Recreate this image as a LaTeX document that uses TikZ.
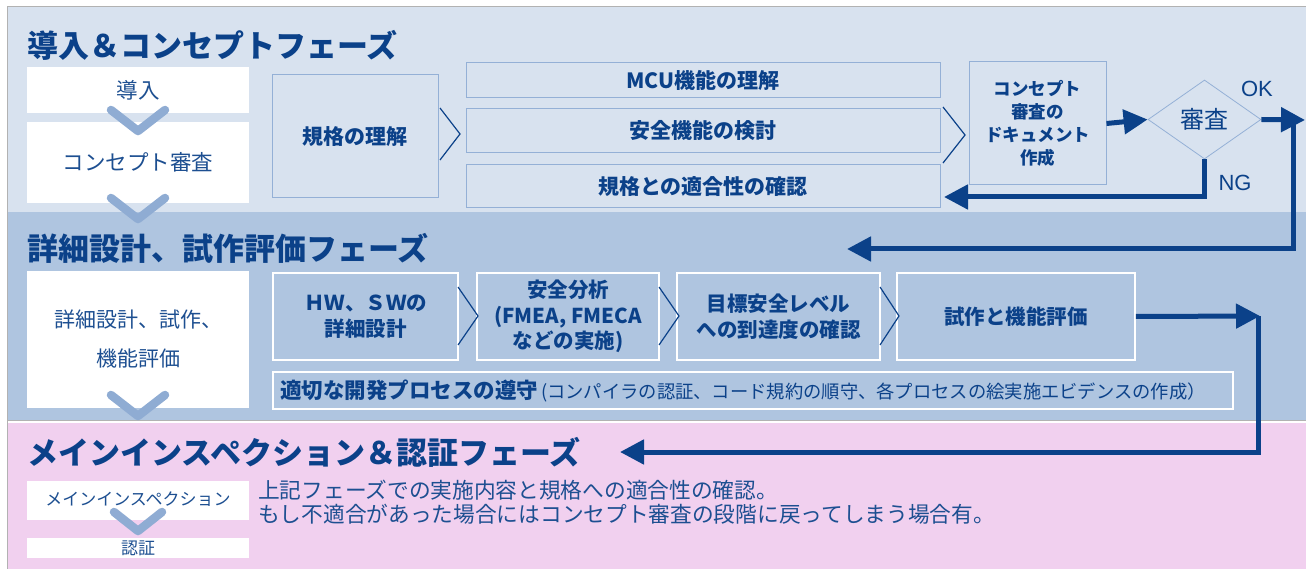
\documentclass[tikz,border=0pt]{standalone}
\usepackage{fontspec}
\setmainfont{Noto Sans CJK JP}
\setsansfont{Liberation Sans}
\usetikzlibrary{arrows.meta,shapes.geometric,calc}
\definecolor{pone}{HTML}{D8E2EF}
\definecolor{ptwo}{HTML}{AFC5E0}
\definecolor{pthree}{HTML}{F1D0EF}
\definecolor{chevc}{HTML}{8FACD3}
\definecolor{bordone}{HTML}{94B0D6}
\definecolor{dblue}{HTML}{0B4189}
\definecolor{tblue}{HTML}{1D4F91}
\begin{document}
\begin{tikzpicture}[x=1pt,y=-1pt,
  title/.style={anchor=west,inner sep=0,text=dblue,font=\fontsize{31}{36}\selectfont\bfseries},
  wbox/.style={fill=white,draw=none,inner sep=0,text=tblue,font=\fontsize{21.5}{26}\selectfont},
  lbox/.style={fill=pone,draw=bordone,line width=1,inner sep=0,text=dblue,align=center,font=\fontsize{21}{26}\selectfont\bfseries},
  dbox/.style={fill=ptwo,draw=white,line width=1.8,inner sep=0,text=dblue,align=center,font=\fontsize{20.5}{25.5}\selectfont\bfseries},
  chev/.style={draw=chevc,line width=8.5,line cap=round,line join=round},
  thin/.style={draw=dblue,line width=1.2},
  arr/.style={draw=dblue,line width=5,line join=miter,-{Triangle[length=24,width=24]}},
  lab/.style={text=dblue,inner sep=0,font=\sffamily\fontsize{22}{26}\selectfont}]
\useasboundingbox (0,0) rectangle (1306,569);
% panels
\fill[white] (0,0) rectangle (1306,569);
\fill[pone] (7,7) rectangle (1306,212);
\fill[ptwo] (7,212) rectangle (1306,420);
\fill[pthree] (7,423) rectangle (1306,569);
\draw[gray!60,line width=1] (7,569) -- (7,7) -- (1306,7);
\draw[gray!60,line width=1] (7,420.5) -- (1306,420.5);
% titles
\node[title] (t1) at (27,45) {導入＆コンセプトフェーズ};
\node[title] (t2) at (27,248) {詳細設計、試作評価フェーズ};
\node[title] (t3) at (27,452) {メインインスペクション＆認証フェーズ};
% phase 1 left
\node[wbox,minimum width=222,minimum height=46] (intro) at (138,90) {導入};
\node[wbox,minimum width=222,minimum height=81] (concept) at (138,162.5) {コンセプト審査};
\draw[chev] (111,110) -- (138,131) -- (165,110);
\draw[chev] (111,198) -- (138,219) -- (165,198);
% phase 1 boxes
\node[lbox,minimum width=166,minimum height=123] (rikai) at (355,136.5) {規格の理解};
\draw[thin] (440,108) -- (460,134) -- (440,160);
\node[lbox,minimum width=474,minimum height=35] (mcu) at (703,80.5) {MCU機能の理解};
\node[lbox,minimum width=474,minimum height=44] (anzen) at (703,131) {安全機能の検討};
\node[lbox,minimum width=474,minimum height=43] (tekigo) at (703,186.5) {規格との適合性の確認};
\draw[thin] (943,107) -- (965,135) -- (943,163);
\node[lbox,minimum width=137,minimum height=123,font=\fontsize{17.5}{23}\selectfont\bfseries] (doc) at (1037.5,123.5) {コンセプト\\審査の\\ドキュメント\\作成};
\node[diamond,aspect=1.43,draw=bordone,line width=0.8,fill=pone,minimum width=113,minimum height=79,inner sep=0,text=dblue,font=\fontsize{24}{28}\selectfont] (dia) at (1204.5,119.5) {審査};
\node[lab] (ok) at (1257,89) {OK};
\node[lab] (ng) at (1235,183) {NG};
\coordinate (okend) at (1305,120);
\coordinate (okturn) at (1293,120);
\coordinate (p2tip) at (847,249);
\coordinate (ngtip) at (944,197);
\draw[arr] (doc.east) -- (dia.west);
\draw[arr] (dia.east) -- (okend);
\draw[arr] (okturn) |- (p2tip);
\draw[arr] (dia.south) |- (ngtip);
% phase 2 left
\node[wbox,minimum width=222,minimum height=137,align=center,font=\fontsize{21}{39}\selectfont] (detail) at (138,339.5) {詳細設計、試作、\\機能評価};
\draw[chev] (111,395) -- (138,416) -- (165,395);
% phase 2 boxes
\node[dbox,minimum width=185,minimum height=87] (hw) at (365.5,316.5) {ＨＷ、ＳＷの\\詳細設計};
\node[dbox,minimum width=182,minimum height=87] (fmea) at (568,316.5) {安全分析\\(FMEA, FMECA\\などの実施)};
\node[dbox,minimum width=203,minimum height=87] (goal) at (778.5,316.5) {目標安全レベル\\への到達度の確認};
\node[dbox,minimum width=238,minimum height=87] (shisaku) at (1016,316.5) {試作と機能評価};
\draw[thin] (458,287) -- (478,316) -- (458,345);
\draw[thin] (659,287) -- (679,316) -- (659,345);
\draw[thin] (880,287) -- (899,316) -- (880,345);
\node[dbox,minimum width=960,minimum height=37,align=left,text width=946,font=\fontsize{21.5}{25.5}\selectfont\bfseries] (proc) at (753,390.5) {適切な開発プロセスの遵守{\mdseries\fontsize{18.3}{20}\selectfont\,(コンパイラの認証、コード規約の順守、各プロセスの絵実施エビデンスの作成）}};
\coordinate (p2end) at (1260,316);
\coordinate (p2turn) at (1258,316);
\coordinate (p3tip) at (620,452);
\draw[arr] (shisaku.east) -- (p2end);
\draw[arr] (p2turn) |- (p3tip);
% phase 3
\node[wbox,minimum width=222,minimum height=39,font=\fontsize{17}{20}\selectfont] (insp) at (138,500.5) {\raisebox{4pt}{メインインスペクション}};
\draw[chev] (114,512) -- (138,531) -- (162,512);
\node[wbox,minimum width=222,minimum height=20,font=\fontsize{17}{20}\selectfont] (cert) at (138,548) {認証};
\node[anchor=north west,inner sep=0,text=tblue,align=left,font=\fontsize{21.7}{24}\selectfont] (desc) at (258,480) {上記フェーズでの実施内容と規格への適合性の確認。\\もし不適合があった場合にはコンセプト審査の段階に戻ってしまう場合有。};
\end{tikzpicture}
\end{document}
